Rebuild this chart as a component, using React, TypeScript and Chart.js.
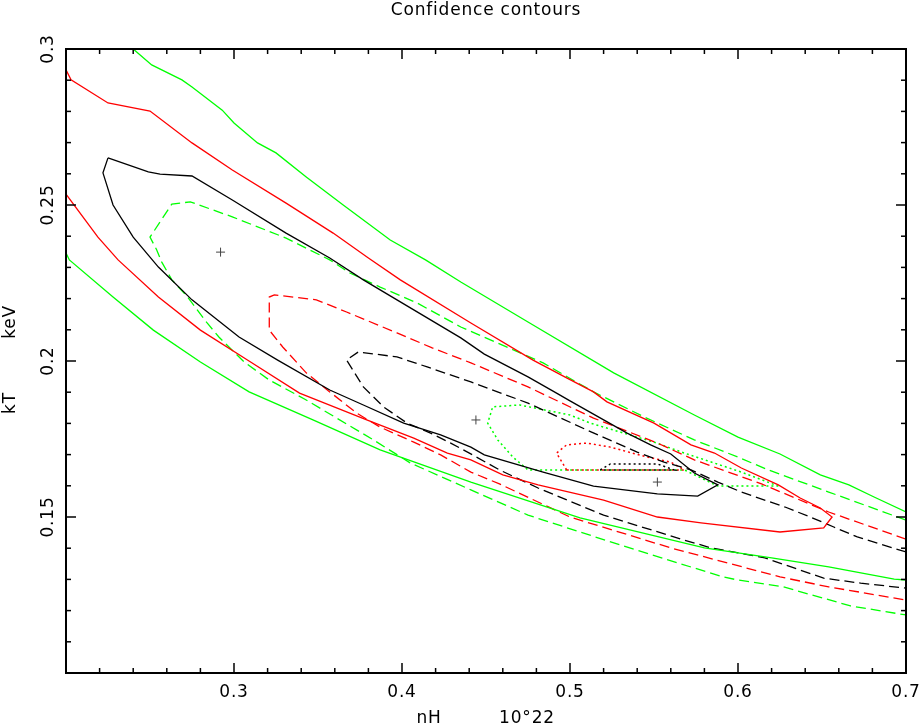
import React, { useEffect, useRef } from "react";
import { Chart, registerables } from "chart.js";

Chart.register(...registerables);

// ---- axis ranges & labels ----
const X_MIN = 0.2;
const X_MAX = 0.7;
const Y_MIN = 0.1;
const Y_MAX = 0.3;
const xMajorTicks = [0.3, 0.4, 0.5, 0.6, 0.7];
const xTickLabels = ["0.3", "0.4", "0.5", "0.6", "0.7"];
const yMajorTicks = [0.15, 0.2, 0.25, 0.3];
const yTickLabels = ["0.15", "0.2", "0.25", "0.3"];
const titleText = "Confidence contours";
const xTitleParts = ["nH", "10°22"];
const yTitleParts = ["kT", "keV"];

// ---- best-fit positions ----
const bestFits: number[][] = [
  [0.292, 0.2349],
  [0.444, 0.1811],
  [0.552, 0.1612],
];

// ---- fit 1 contours (solid) ----
const fit1Black: number[][] = [
  [0.225, 0.2651], [0.249, 0.2606], [0.256, 0.2599], [0.275, 0.2593], [0.299, 0.2516],
  [0.331, 0.241], [0.357, 0.233], [0.377, 0.226], [0.435, 0.2074], [0.449, 0.2022],
  [0.475, 0.1949], [0.492, 0.1897], [0.5, 0.1872], [0.534, 0.1769], [0.548, 0.1731],
  [0.56, 0.1702], [0.574, 0.1641], [0.588, 0.1603], [0.576, 0.1567], [0.552, 0.1574],
  [0.514, 0.1599], [0.484, 0.1644], [0.449, 0.1699], [0.441, 0.1724], [0.423, 0.1763],
  [0.401, 0.1801], [0.377, 0.1859], [0.357, 0.1907], [0.326, 0.2003], [0.303, 0.2077],
  [0.275, 0.2196], [0.255, 0.2301], [0.24, 0.2397], [0.228, 0.25], [0.222, 0.2603],
  [0.225, 0.2651],
];
const fit1Red: number[][] = [
  [0.2, 0.2933], [0.203, 0.2901], [0.225, 0.2827], [0.25, 0.2801], [0.275, 0.2699],
  [0.299, 0.2612], [0.331, 0.2506], [0.359, 0.241], [0.38, 0.233], [0.399, 0.226],
  [0.441, 0.2122], [0.478, 0.2003], [0.498, 0.1946], [0.514, 0.1901], [0.522, 0.1869],
  [0.55, 0.1801], [0.572, 0.1731], [0.586, 0.1705], [0.602, 0.1657], [0.624, 0.1603],
  [0.637, 0.1561], [0.649, 0.1529], [0.656, 0.15], [0.651, 0.1465], [0.625, 0.1452],
  [0.578, 0.1481], [0.552, 0.15], [0.52, 0.1554], [0.481, 0.1603], [0.46, 0.1635],
  [0.441, 0.1683], [0.427, 0.1705], [0.407, 0.1753], [0.379, 0.1811], [0.339, 0.1897],
  [0.308, 0.2003], [0.28, 0.2099], [0.255, 0.2205], [0.231, 0.2324], [0.219, 0.2397],
  [0.2, 0.2535],
];
const fit1GreenUpper: number[][] = [
  [0.24, 0.3], [0.251, 0.2949], [0.269, 0.2901], [0.275, 0.2878], [0.293, 0.2804],
  [0.3, 0.2763], [0.314, 0.2699], [0.325, 0.2667], [0.343, 0.259], [0.365, 0.25],
  [0.393, 0.2388], [0.414, 0.2324], [0.435, 0.2253], [0.476, 0.2122], [0.526, 0.1962],
  [0.574, 0.1827], [0.6, 0.1756], [0.625, 0.1702], [0.649, 0.1635], [0.666, 0.1603],
  [0.681, 0.1564], [0.7, 0.1516],
];
const fit1GreenLower: number[][] = [
  [0.2, 0.2346], [0.202, 0.2324], [0.228, 0.2205], [0.252, 0.2099], [0.28, 0.1997],
  [0.309, 0.1901], [0.347, 0.1811], [0.387, 0.1715], [0.441, 0.1612], [0.506, 0.1497],
  [0.58, 0.1401], [0.62, 0.1369], [0.654, 0.134], [0.693, 0.1301], [0.7, 0.1298],
];

// ---- fit 2 contours (dashed) ----
const fit2Black: number[][] = [
  [0.7, 0.1388], [0.671, 0.1436], [0.657, 0.1468], [0.643, 0.15], [0.628, 0.1532],
  [0.602, 0.158], [0.588, 0.1612], [0.572, 0.1651], [0.556, 0.1676], [0.54, 0.1708],
  [0.51, 0.1779], [0.475, 0.1865], [0.441, 0.1933], [0.415, 0.1981], [0.397, 0.2013],
  [0.374, 0.2029], [0.367, 0.2003], [0.377, 0.1917], [0.389, 0.1853], [0.403, 0.1801],
  [0.417, 0.1769], [0.429, 0.1737], [0.442, 0.1699], [0.458, 0.1651], [0.481, 0.1593],
  [0.52, 0.1506], [0.568, 0.1426], [0.584, 0.1401], [0.616, 0.1369], [0.651, 0.1304],
  [0.673, 0.1288], [0.7, 0.1272],
];
const fit2Red: number[][] = [
  [0.7, 0.1429], [0.654, 0.1516], [0.614, 0.1606], [0.574, 0.1683], [0.552, 0.1737],
  [0.514, 0.1817], [0.475, 0.1917], [0.441, 0.1994], [0.418, 0.2042], [0.397, 0.209],
  [0.367, 0.2157], [0.349, 0.2196], [0.324, 0.2212], [0.321, 0.2205], [0.321, 0.2099],
  [0.329, 0.2045], [0.343, 0.1962], [0.357, 0.1901], [0.373, 0.1833], [0.387, 0.1788],
  [0.407, 0.174], [0.423, 0.1699], [0.441, 0.1644], [0.458, 0.1606], [0.5, 0.15],
  [0.56, 0.1401], [0.625, 0.1308], [0.654, 0.1276], [0.7, 0.1234],
];
const fit2Green: number[][] = [
  [0.7, 0.149], [0.654, 0.158], [0.618, 0.1651], [0.6, 0.1692], [0.574, 0.1747],
  [0.544, 0.1821], [0.514, 0.1901], [0.484, 0.1994], [0.435, 0.2109], [0.409, 0.2186],
  [0.387, 0.2237], [0.369, 0.2282], [0.357, 0.2324], [0.331, 0.2394], [0.299, 0.2462],
  [0.274, 0.251], [0.263, 0.2503], [0.25, 0.2397], [0.254, 0.2356], [0.257, 0.2317],
  [0.263, 0.226], [0.272, 0.2208], [0.284, 0.2122], [0.291, 0.2077], [0.306, 0.1997],
  [0.321, 0.1939], [0.343, 0.1875], [0.383, 0.1747], [0.405, 0.1673], [0.441, 0.1587],
  [0.475, 0.1506], [0.53, 0.141], [0.591, 0.1308], [0.6, 0.1298], [0.627, 0.1276],
  [0.667, 0.1215], [0.7, 0.1186],
];

// ---- fit 3 contours (dotted) ----
const fit3Black: number[][] = [
  [0.518, 0.1651], [0.524, 0.167], [0.552, 0.167], [0.562, 0.1651], [0.518, 0.1651],
];
const fit3Red: number[][] = [
  [0.498, 0.1651], [0.492, 0.1705], [0.498, 0.1731], [0.51, 0.1737], [0.524, 0.1724],
  [0.546, 0.1692], [0.56, 0.1676], [0.568, 0.1651], [0.498, 0.1651],
];
const fit3Green: number[][] = [
  [0.624, 0.1599], [0.602, 0.1644], [0.568, 0.1705], [0.55, 0.174], [0.512, 0.1801],
  [0.5, 0.1827], [0.47, 0.1859], [0.454, 0.1853], [0.451, 0.1801], [0.457, 0.1747],
  [0.466, 0.1692], [0.475, 0.1651], [0.568, 0.1651], [0.588, 0.1599], [0.624, 0.1599],
];

const BLACK = "#000000";
const RED = "#ff0000";
const GREEN = "#00ff00";
const SOLID: number[] = [];
const DASHED = [10, 5];
const DOTTED = [2, 3];

const FONT = '17px "DejaVu Sans"';

function contour(points: number[][], color: string, dash: number[], width = 1.3) {
  return {
    data: points.map((p) => ({ x: p[0], y: p[1] })),
    showLine: true,
    borderColor: color,
    backgroundColor: color,
    borderWidth: width,
    borderDash: dash,
    pointRadius: 0,
    pointHoverRadius: 0,
    fill: false,
    tension: 0,
  };
}

const framePlugin = {
  id: "pgFrame",
  afterDraw(chart: any) {
    const { ctx, chartArea: a, scales } = chart;
    const xs = scales.x;
    const ys = scales.y;
    ctx.save();
    ctx.strokeStyle = "#000";
    ctx.lineWidth = 2;
    ctx.strokeRect(a.left, a.top, a.right - a.left, a.bottom - a.top);
    ctx.lineWidth = 1.5;
    const seg = (x1: number, y1: number, x2: number, y2: number) => {
      ctx.beginPath();
      ctx.moveTo(x1, y1);
      ctx.lineTo(x2, y2);
      ctx.stroke();
    };
    // x ticks (minor every 0.02)
    for (let i = 0; i <= 25; i++) {
      const px = xs.getPixelForValue(X_MIN + i * 0.02);
      const len = i % 5 === 0 ? 10 : 5;
      seg(px, a.bottom, px, a.bottom - len);
      seg(px, a.top, px, a.top + len);
    }
    // y ticks (minor every 0.01)
    for (let i = 0; i <= 20; i++) {
      const py = ys.getPixelForValue(Y_MIN + i * 0.01);
      const len = i % 5 === 0 ? 10 : 5;
      seg(a.left, py, a.left + len, py);
      seg(a.right, py, a.right - len, py);
    }
    ctx.fillStyle = "#000";
    ctx.font = FONT;
    (ctx as any).letterSpacing = "0.8px";
    ctx.textAlign = "center";
    ctx.textBaseline = "alphabetic";
    xMajorTicks.forEach((v, i) => {
      ctx.fillText(xTickLabels[i], xs.getPixelForValue(v), a.bottom + 24);
    });
    yMajorTicks.forEach((v, i) => {
      ctx.save();
      ctx.translate(a.left - 13, ys.getPixelForValue(v));
      ctx.rotate(-Math.PI / 2);
      ctx.fillText(yTickLabels[i], 0, 0);
      ctx.restore();
    });
    // title
    const cx = (a.left + a.right) / 2;
    const cy = (a.top + a.bottom) / 2;
    ctx.fillText(titleText, cx, 15);
    // x title
    ctx.fillText(xTitleParts[0], cx - 57, a.bottom + 50);
    ctx.fillText(xTitleParts[1], cx + 41, a.bottom + 50);
    // y title
    ctx.save();
    ctx.translate(15, cy + 42);
    ctx.rotate(-Math.PI / 2);
    ctx.fillText(yTitleParts[0], 0, 0);
    ctx.restore();
    ctx.save();
    ctx.translate(15, cy - 39);
    ctx.rotate(-Math.PI / 2);
    ctx.fillText(yTitleParts[1], 0, 0);
    ctx.restore();
    ctx.restore();
  },
};

export default function App() {
  const canvasRef = useRef<HTMLCanvasElement | null>(null);

  useEffect(() => {
    const canvas = canvasRef.current;
    if (!canvas) return;
    const datasets: any[] = [
      contour(fit1Black, BLACK, SOLID),
      contour(fit1Red, RED, SOLID),
      contour(fit1GreenUpper, GREEN, SOLID),
      contour(fit1GreenLower, GREEN, SOLID),
      contour(fit2Black, BLACK, DASHED),
      contour(fit2Red, RED, DASHED),
      contour(fit2Green, GREEN, DASHED),
      contour(fit3Black, BLACK, DOTTED, 1.5),
      contour(fit3Red, RED, DOTTED, 1.5),
      contour(fit3Green, GREEN, DOTTED, 1.5),
      {
        data: bestFits.map((p) => ({ x: p[0], y: p[1] })),
        showLine: false,
        pointStyle: "cross",
        pointRadius: 4.5,
        pointHoverRadius: 4.5,
        borderColor: "#444444",
        backgroundColor: "#444444",
        borderWidth: 1,
      },
    ];
    const chart = new Chart(canvas, {
      type: "scatter",
      data: { datasets },
      options: {
        responsive: false,
        animation: false,
        events: [],
        layout: { padding: { left: 66, right: 15, top: 49, bottom: 51 } },
        plugins: {
          legend: { display: false },
          title: { display: false },
          tooltip: { enabled: false },
        },
        scales: {
          x: { type: "linear", min: X_MIN, max: X_MAX, display: false },
          y: { type: "linear", min: Y_MIN, max: Y_MAX, display: false },
        },
      },
      plugins: [framePlugin],
    });
    return () => chart.destroy();
  }, []);

  return (
    <div style={{ position: "absolute", left: 0, top: 0, width: 921, height: 724, background: "#fff" }}>
      <canvas ref={canvasRef} width={921} height={724} style={{ display: "block" }} />
    </div>
  );
}
